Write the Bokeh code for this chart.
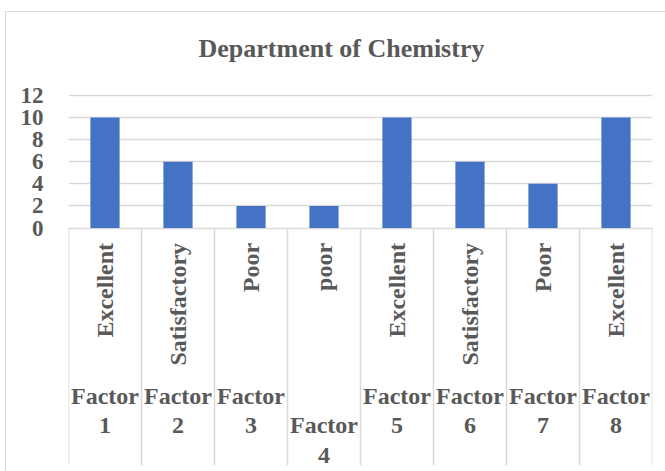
from bokeh.plotting import figure
from bokeh.models import (ColumnDataSource, FactorRange, Range1d, FixedTicker,
                          Title, InlineStyleSheet)
from bokeh.core.properties import value
from bokeh.embed import file_html
from bokeh.resources import INLINE
import math

# ---- data ----
factors = ["Factor 1", "Factor 2", "Factor 3", "Factor 4",
           "Factor 5", "Factor 6", "Factor 7", "Factor 8"]
ratings = ["Excellent", "Satisfactory", "Poor", "poor",
           "Excellent", "Satisfactory", "Poor", "Excellent"]
scores = [10, 6, 2, 2, 10, 6, 4, 10]
y_ticks = [0, 2, 4, 6, 8, 10, 12]
title_text = "Department of Chemistry"

FONT = "Liberation Serif"
GRAY = "#595959"
GRID = "#d9d9d9"
BAR = "#4472C4"

Y0, Y1 = -21.51, 12.906

border_css = InlineStyleSheet(css="""
:host { position: relative; }
:host::after {
  content: ""; position: absolute; left: 5px; top: 11px;
  right: -20px; bottom: -20px; border: 1.5px solid #d9d9d9;
  pointer-events: none;
}
""")

p = figure(width=665, height=471, output_backend="svg", toolbar_location=None,
           x_range=FactorRange(factors=factors, range_padding=0),
           y_range=Range1d(Y0, Y1),
           min_border_left=68, min_border_right=13, min_border_bottom=6,
           min_border_top=85, stylesheets=[border_css])

p.title = Title(text=title_text, text_font=FONT, text_font_size="26px",
                text_font_style="bold", text_color=GRAY, align="left",
                offset=130, standoff=45)

# bars
src = ColumnDataSource(dict(x=factors, y=scores))
p.vbar(x="x", top="y", width=0.4, source=src, color=BAR, line_color=None)

# separators below the baseline (category boundaries)
sep_x = [(f, -0.5) for f in factors] + [(factors[-1], 0.5)]
p.segment(x0=sep_x, y0=[0] * len(sep_x), x1=sep_x, y1=[Y0] * len(sep_x),
          line_color=GRID, line_width=1.5)

# rating labels (rotated)
p.text(x=factors, y=[-1.35] * len(factors), text=ratings, angle=math.pi / 2,
       text_align="right", text_baseline="middle",
       text_font=value(FONT), text_font_size="24px", text_font_style="bold",
       text_color=GRAY)

# factor labels (two lines; Factor 4 wrapped one line lower)
flabels = [("\n" if f == "Factor 4" else "") + f.replace(" ", "\n") for f in factors]
p.text(x=factors, y=[-14.0] * len(factors), text=flabels,
       text_align="center", text_baseline="top", text_line_height=1.15,
       text_font=value(FONT), text_font_size="24px", text_font_style="bold",
       text_color=GRAY)

# axes / grid
p.xaxis.visible = False
p.xgrid.visible = False
p.yaxis.ticker = FixedTicker(ticks=y_ticks)
p.ygrid.ticker = FixedTicker(ticks=y_ticks)
p.ygrid.grid_line_color = GRID
p.ygrid.grid_line_width = 1.5
p.yaxis.axis_line_color = None
p.yaxis.major_tick_line_color = None
p.yaxis.minor_tick_line_color = None
p.yaxis.major_label_standoff = 19
p.yaxis.major_label_text_font = FONT
p.yaxis.major_label_text_font_size = "23px"
p.yaxis.major_label_text_font_style = "bold"
p.yaxis.major_label_text_color = GRAY
p.outline_line_color = None

open("out.html", "w").write(file_html(p, INLINE))
